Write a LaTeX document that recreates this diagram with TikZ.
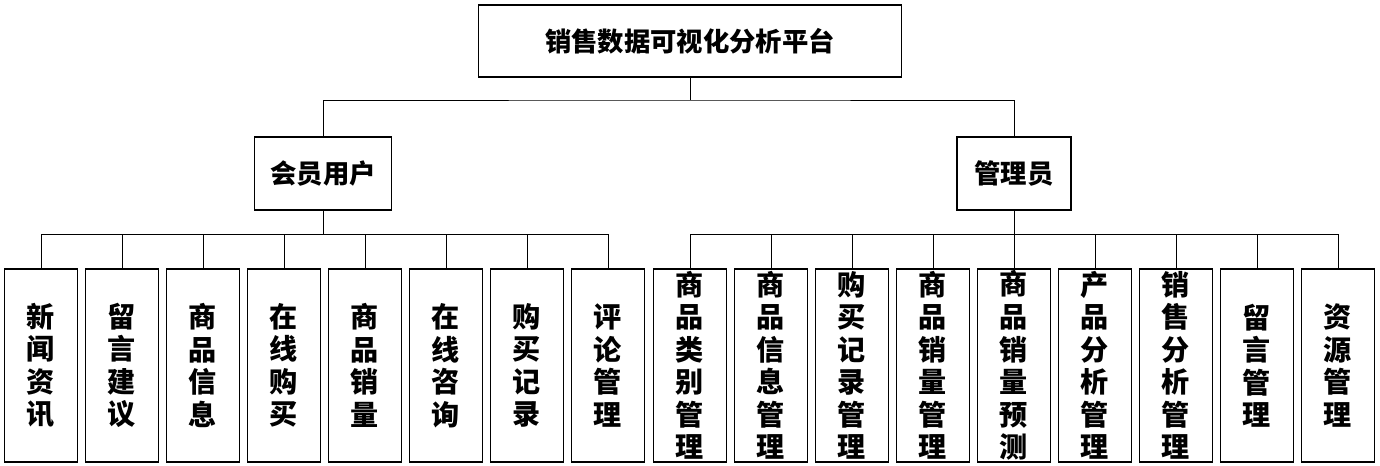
\documentclass[tikz,border=0pt]{standalone}
\usepackage{fontspec}
\setmainfont{Noto Sans CJK SC}
\usetikzlibrary{positioning}

\begin{document}
\begin{tikzpicture}[
    x=0.02cm, y=-0.02cm,
    box/.style={draw, semithick, font=\fontsize{15}{17}\selectfont\bfseries, inner sep=0pt},
    leaf/.style={box, minimum width=1.46cm, minimum height=3.86cm, align=center,
        font=\fontsize{16}{18.5}\selectfont\bfseries},
    link/.style={thin}
]
\useasboundingbox (0,0) rectangle (1380,466);

% Root
\node[box, minimum width=8.48cm, minimum height=1.44cm] (root) at (690,41) {销售数据可视化分析平台};

% Second level
\node[box, minimum width=2.74cm, minimum height=1.46cm] (member) at (323,173.5) {会员用户};
\node[box, minimum width=2.28cm, minimum height=1.46cm] (admin) at (1014,173.5) {管理员};

\coordinate (rootbar) at (690,100);
\draw[link] (root) -- (rootbar);
\draw[link] (member) |- (rootbar) -| (admin);

% Member leaves
\coordinate (mbar) at (323,234);
\draw[link] (member) -- (mbar);
\foreach \t [count=\i] in {新\\闻\\资\\讯, 留\\言\\建\\议, 商\\品\\信\\息, 在\\线\\购\\买,
    商\\品\\销\\量, 在\\线\\咨\\询, 购\\买\\记\\录, 评\\论\\管\\理} {
  \node[leaf] (m\i) at ({41+81*(\i-1)},365.5) {\t};
  \draw[link] (m\i) |- (mbar);
}

% Admin leaves
\coordinate (abar) at (1014,234);
\draw[link] (admin) -- (abar);
\foreach \t [count=\i] in {商\\品\\类\\别\\管\\理, 商\\品\\信\\息\\管\\理, 购\\买\\记\\录\\管\\理,
    商\\品\\销\\量\\管\\理, 商\\品\\销\\量\\预\\测, 产\\品\\分\\析\\管\\理,
    销\\售\\分\\析\\管\\理, 留\\言\\管\\理, 资\\源\\管\\理} {
  \node[leaf] (a\i) at ({690+81*(\i-1)},365.5) {\t};
  \draw[link] (a\i) |- (abar);
}

\end{tikzpicture}
\end{document}
